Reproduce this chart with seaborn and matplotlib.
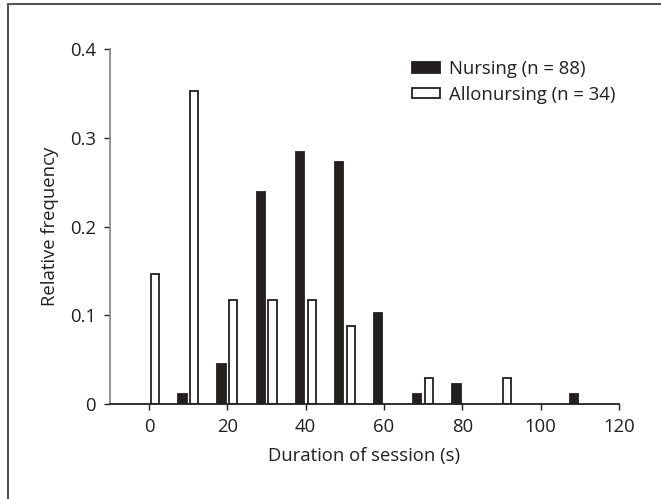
import matplotlib
matplotlib.use("Agg")
import matplotlib.pyplot as plt
import seaborn as sns
import pandas as pd
from matplotlib.patches import Patch

# Data (relative frequency per 10-s bin)
nursing_bins = [10, 20, 30, 40, 50, 60, 70, 80, 110]
nursing_freq = [0.0114, 0.0455, 0.2386, 0.2841, 0.2727, 0.1023, 0.0114, 0.0227, 0.0114]
allo_bins = [0, 10, 20, 30, 40, 50, 70, 90]
allo_freq = [0.1471, 0.3529, 0.1176, 0.1176, 0.1176, 0.0882, 0.0294, 0.0294]
groups = ["Nursing (n = 88)", "Allonursing (n = 34)"]
x_ticks = [0, 20, 40, 60, 80, 100, 120]
y_ticks = [0, 0.1, 0.2, 0.3, 0.4]
y_tick_labels = ["0", "0.1", "0.2", "0.3", "0.4"]

df = pd.concat([
    pd.DataFrame({"bin": nursing_bins, "freq": nursing_freq, "group": groups[0]}),
    pd.DataFrame({"bin": allo_bins, "freq": allo_freq, "group": groups[1]}),
], ignore_index=True)

sns.set_style("ticks")
plt.rcParams["font.family"] = ["Open Sans", "DejaVu Sans"]

dark = "#231f20"
fs = 13.3
fig = plt.figure(figsize=(6.61, 4.99), dpi=100)
ax = fig.add_axes([0.1664, 0.190, 0.770, 0.712])

sns.barplot(data=df, x="bin", y="freq", hue="group", hue_order=groups,
            native_scale=True, dodge=True, width=0.6, gap=0.3,
            palette={groups[0]: dark, groups[1]: "white"},
            edgecolor=dark, linewidth=1.3, errorbar=None, ax=ax, legend=False)

ax.set_xlim(-10, 120)
ax.set_ylim(0, 0.4)
ax.set_xticks(x_ticks)
ax.set_xticklabels([str(t) for t in x_ticks])
ax.set_yticks(y_ticks)
ax.set_yticklabels(y_tick_labels)
ax.tick_params(axis="both", labelsize=fs, length=4, width=1, color=dark,
               labelcolor=dark)
ax.tick_params(axis="x", pad=6)
ax.tick_params(axis="y", pad=6)
for s in ["top", "right"]:
    ax.spines[s].set_visible(False)
ax.spines["bottom"].set_color(dark)
ax.spines["bottom"].set_linewidth(1.3)
ax.spines["left"].set_color("#8a8a8a")
ax.spines["left"].set_linewidth(1.3)

ax.set_xlabel("Duration of session (s)", fontsize=fs, color=dark, labelpad=8)
ax.set_ylabel("Relative frequency", fontsize=fs, color=dark, labelpad=8)

handles = [Patch(facecolor=dark, edgecolor=dark, linewidth=1.3),
           Patch(facecolor="white", edgecolor=dark, linewidth=1.3)]
ax.legend(handles, groups, loc="upper right", bbox_to_anchor=(1.008, 0.99),
          frameon=False, fontsize=fs, handlelength=1.5, handleheight=0.5,
          handletextpad=0.5, labelspacing=0.42, borderaxespad=0,
          labelcolor=dark)

# Partial outer frame (left and top edges)
fig.add_artist(plt.Line2D([8/661, 8/661], [0, 1 - 4/499], transform=fig.transFigure,
                          color="#555555", linewidth=1.5))
fig.add_artist(plt.Line2D([8/661, 1], [1 - 4/499, 1 - 4/499], transform=fig.transFigure,
                          color="#555555", linewidth=1.5))

fig.savefig("out.png", dpi=100)
